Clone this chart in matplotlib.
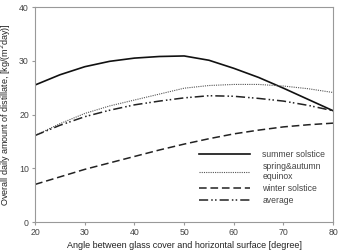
import matplotlib
matplotlib.use("Agg")
import matplotlib.pyplot as plt
import numpy as np

# angle between glass cover and horizontal surface [degree]
angle = np.array([20, 25, 30, 35, 40, 45, 50, 55, 60, 65, 70, 75, 80])
summer = np.array([25.5, 27.4, 28.9, 29.9, 30.5, 30.8, 30.9, 30.1, 28.6, 26.9, 24.9, 22.8, 20.7])
equinox = np.array([16.1, 18.3, 20.2, 21.6, 22.7, 23.8, 24.9, 25.4, 25.6, 25.6, 25.3, 24.8, 24.1])
winter = np.array([7.0, 8.4, 9.8, 11.0, 12.2, 13.4, 14.5, 15.5, 16.4, 17.1, 17.7, 18.1, 18.4])
average = np.array([16.1, 18.0, 19.6, 20.8, 21.8, 22.5, 23.1, 23.5, 23.4, 23.0, 22.5, 21.7, 20.7])

plt.rcParams['font.family'] = ['Liberation Sans', 'DejaVu Sans']

fig = plt.figure(figsize=(3.41, 2.52), dpi=100)
ax = fig.add_axes([0.103, 0.119, 0.874, 0.853])

ax.plot(angle, summer, color='#111111', lw=1.2, label='summer solstice')
ax.plot(angle, equinox, color='#555555', lw=0.8, ls=(0, (1, 1)), label='spring&autumn\nequinox')
ax.plot(angle, winter, color='#222222', lw=1.1, ls=(0, (5, 2.5)), label='winter solstice')
ax.plot(angle, average, color='#222222', lw=1.1, ls=(0, (6, 2, 1, 1.5, 1, 2)), label='average')

ax.set_xlim(20, 80)
ax.set_ylim(0, 40)
ax.set_xticks(range(20, 81, 10))
ax.set_yticks(range(0, 41, 10))
for s in ax.spines.values():
    s.set_color('#999999')
    s.set_linewidth(0.8)
ax.tick_params(labelsize=6.3, colors='#999999', labelcolor='#444444', length=2.5, width=0.8, pad=2)

ax.set_xlabel('Angle between glass cover and horizontal surface [degree]', fontsize=6.5, color='#222222', labelpad=3)
ax.set_ylabel('Overall daily amount of distillate, [kg/(m$^2$day)]', fontsize=6.5, color='#222222', labelpad=4)

leg = ax.legend(loc='lower right', bbox_to_anchor=(1.0, 0.045), frameon=False, fontsize=6.2,
                handlelength=6.0, handletextpad=1.4, labelspacing=0.3, labelcolor='#444444')

fig.savefig('out.png', dpi=100)
